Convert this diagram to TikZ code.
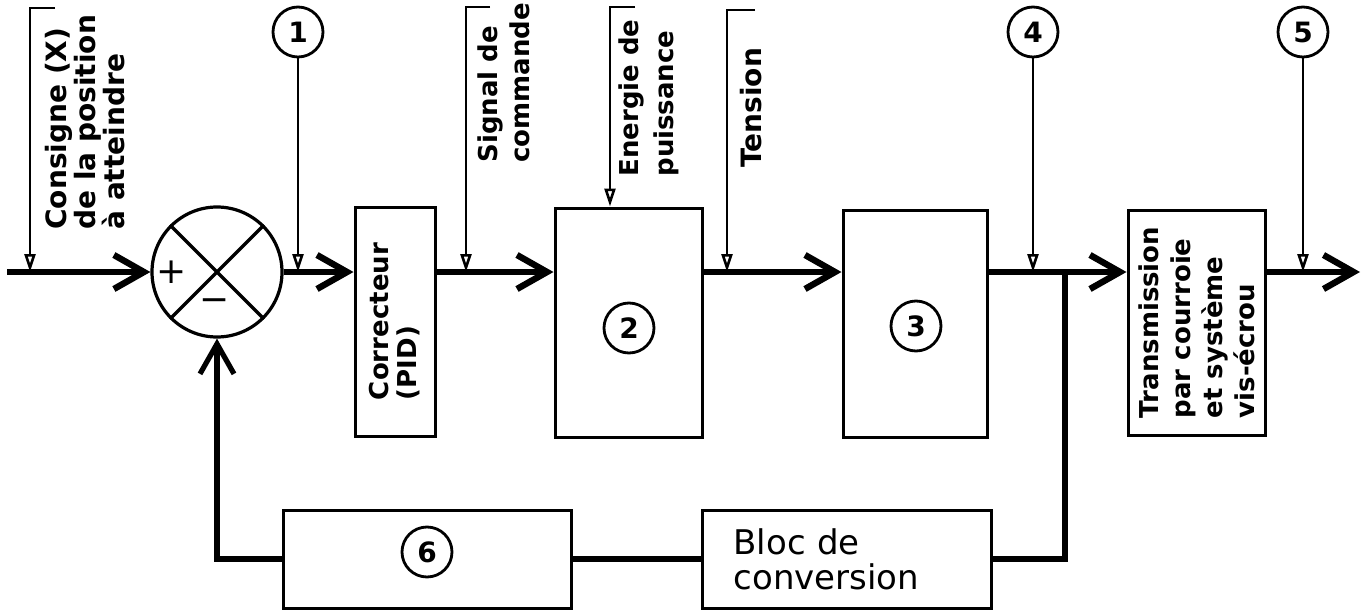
\documentclass[tikz,border=0pt]{standalone}
\usepackage{fontspec}
\setmainfont{DejaVu Sans}
\usetikzlibrary{arrows.meta}

\begin{document}
\begin{tikzpicture}[x=0.5pt, y=-0.5pt, line join=miter,
    box/.style={draw, line width=1.5pt, inner sep=0pt},
    num/.style={draw, circle, line width=1.4pt, minimum size=25pt, inner sep=0pt,
      font=\bfseries\fontsize{14}{14}\selectfont},
    main/.style={line width=3.2pt},
    feed/.style={line width=2.6pt},
    barb/.style={-{Straight Barb[length=15pt, width=17pt]}},
    tap/.style={line width=1.3pt, -{Triangle[open, length=9pt, width=5.5pt]}},
    vlab/.style={rotate=90, anchor=north west, inner sep=0pt, align=left}]
  \useasboundingbox (0,0) rectangle (1362,611);
  % Summing junction.
  \node[draw, circle, line width=1.6pt, minimum size=65pt, inner sep=0pt] (sum) at (217,272) {};
  \draw[line width=1.6pt] (sum.45) -- (sum.225) (sum.135) -- (sum.315);
  \node[font=\fontsize{18}{18}\selectfont] (plus) at (172,272) {+};
  \node[font=\fontsize{18}{18}\selectfont] (minus) at (215,305) {−};
  % Forward chain.
  \node[box, minimum width=40pt, minimum height=114.5pt] (cor) at (395,321.5) {};
  \node[rotate=90, align=left, font=\bfseries\fontsize{13}{14}\selectfont] (lcor) at (cor) {Correcteur\\(PID)};
  \node[box, minimum width=73.5pt, minimum height=114.5pt] (b2) at (628.5,322.5) {};
  \node[num] (n2) at (629,328) {2};
  \node[box, minimum width=72pt, minimum height=113.5pt] (b3) at (915,323.5) {};
  \node[num] (n3) at (916,326) {3};
  \node[box, minimum width=68.5pt, minimum height=112.5pt] (tr) at (1196.5,322.5) {};
  \node[rotate=90, align=left, font=\bfseries\fontsize{13}{16}\selectfont] (ltr) at (tr)
    {Transmission\\par courroie\\et système\\vis-écrou};
  % Feedback chain.
  \node[box, minimum width=144pt, minimum height=49pt] (b6) at (427,559) {};
  \node[num] (n6) at (427,552) {6};
  \node[box, minimum width=144.5pt, minimum height=49pt, text width=113pt, inner xsep=15.75pt,
    align=left, font=\fontsize{17}{17.5}\selectfont] (conv) at (846.5,559) {Bloc de\\conversion};
  % Measurement points.
  \node[num] (n1) at (298,32) {1};
  \node[num] (n4) at (1033,32) {4};
  \node[num] (n5) at (1303,32) {5};
  \coordinate (in) at (7,272);
  \coordinate (out) at (1360,272);
  \coordinate (br) at (1065,272);
  % Main signal line.
  \draw[main, barb] (in) -- (sum.west);
  \draw[main, barb] (sum.east) -- (sum.east -| cor.west);
  \draw[main, barb] (cor.east |- sum) -- (b2.west |- sum);
  \draw[main, barb] (b2.east |- sum) -- (b3.west |- sum);
  \draw[main, barb] (b3.east |- sum) -- (tr.west |- sum);
  \draw[main, barb] (tr.east |- sum) -- (out);
  % Feedback loop.
  \draw[feed] (br) |- (conv.east);
  \draw[feed] (conv.west) -- (b6.east);
  \draw[feed, barb] (b6.west) -| (sum.south);
  % Signal names with hooked leaders.
  \coordinate (cons) at (30,8);
  \coordinate (sig) at (466,7);
  \coordinate (nrj) at (610,7);
  \coordinate (ten) at (727,10);
  \draw[tap] (cons) ++(25,0) -- (cons) -- (cons |- sum);
  \draw[tap] (sig) ++(24,0) -- (sig) -- (sig |- sum);
  \draw[tap] (nrj) ++(25,0) -- (nrj) -- (nrj |- b2.north);
  \draw[tap] (ten) ++(28,0) -- (ten) -- (ten |- sum);
  \draw[tap] (n1) -- (n1 |- sum);
  \draw[tap] (n4) -- (n4 |- sum);
  \draw[tap] (n5) -- (n5 |- sum);
  \node[vlab, font=\bfseries\fontsize{14}{14.5}\selectfont] (lcons) at (45,230)
    {Consigne (X)\\de la position\\à atteindre};
  \node[vlab, font=\bfseries\fontsize{13}{16}\selectfont] (lsig) at (477,163) {Signal de\\commande};
  \node[vlab, font=\bfseries\fontsize{13}{17.5}\selectfont] (lnrj) at (618,177) {Energie de\\puissance};
  \node[vlab, font=\bfseries\fontsize{14}{14}\selectfont] (lten) at (740,168) {Tension};
\end{tikzpicture}
\end{document}
